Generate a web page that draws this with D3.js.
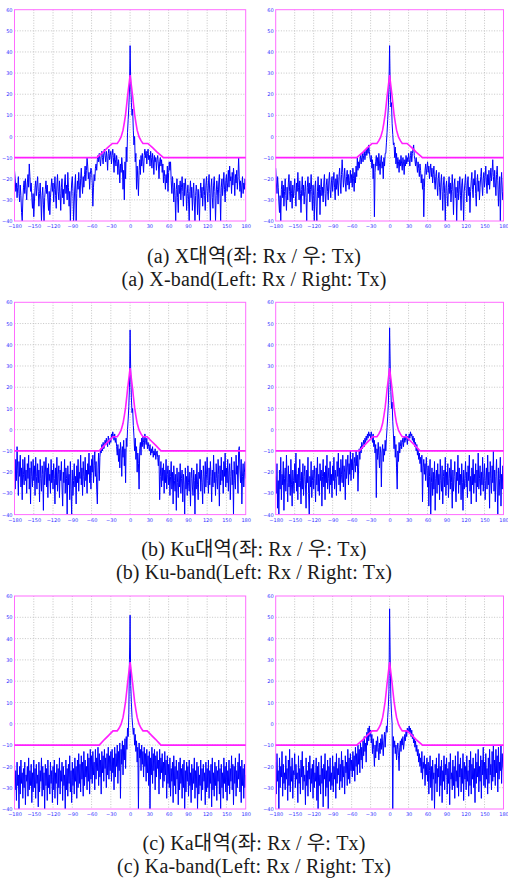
<!DOCTYPE html>
<html><head><meta charset="utf-8">
<script src="https://cdn.jsdelivr.net/npm/d3@7"></script>
<style>body{margin:0;background:#fff}svg{display:block}</style>
</head><body>
<svg id="c" width="508" height="879"></svg>
<script>
// ---------- data ----------
const xTicks = [-180,-150,-120,-90,-60,-30,0,30,60,90,120,150,180];
const yTicks = [60,50,40,30,20,10,0,-10,-20,-30,-40];

// mask (half pattern, symmetric), angle in deg, level in dB
const maskAnglesA = [0,1,2,3,4,5,7,9,11,14,17,20,27.6,35,42,52,180];
const maskAnglesB = [0,1,2,3,4,5,7,9,11,14,17,20,26.6,33,40,48,180];
const maskLevels  = [29,26.5,24,21.5,19,16,10.5,6.5,3,-0.2,-2,-3.3,-3.3,-5.3,-7.4,-10,-10];

// measured patterns, -180..180 deg, 1 deg steps
const xRx = [
-16,-20,-26,-22,-29,-24,-19,-27,-31,-23,-28,-36,-40,-30,-24,-21,-27,-20,-25,-30,-22,-18,-24,-13,-19,-26,-22,-29,-34,-27,
-38,-31,-24,-21,-28,-23,-19,-26,-33,-27,-22,-30,-40,-28,-24,-32,-40,-29,-25,-21,-27,-23,-30,-35,-26,-37,-29,-24,-20,-26,
-22,-31,-25,-19,-28,-34,-23,-18,-26,-30,-21,-27,-35,-24,-20,-29,-25,-32,-22,-18,-27,-23,-30,-17,-24,-33,-26,-40,-29,-22,
-19,-26,-40,-31,-23,-18,-40,-27,-21,-25,-17,-23,-29,-20,-15,-22,-27,-19,-24,-18,-14,-21,-16,-10,-14,-20,-17,-25,-18,-15,
-16,-22,-33,-24,-18,-21,-15,-13,-16,-11,-9,-12,-8,-11,-14,-9,-7,-10,-13,-8,-6,-9,-12,-7,-10,-16,-8,-6,-11,-9,
-7,-13,-9,-6,-10,-17,-8,-11,-14,-9,-12,-18,-11,-15,-22,-13,-17,-10,-14,-25,-16,-30,-12,-20,-5,-12,2,8,14,22,
43,25,16,10,13,3,-4,0,-12,-8,-25,-14,-20,-28,-16,-11,-18,-9,-14,-8,-12,-17,-9,-6,-10,-7,-13,-8,-6,-11,
-9,-14,-7,-10,-15,-8,-11,-18,-9,-12,-10,-16,-11,-9,-13,-20,-12,-10,-14,-11,-17,-13,-22,-16,-19,-25,-18,-22,-14,-26,
-17,-12,-16,-12,-21,-27,-19,-24,-31,-22,-28,-40,-25,-20,-29,-36,-23,-27,-21,-30,-24,-19,-26,-33,-22,-28,-20,-25,-35,-27,
-23,-30,-40,-26,-21,-29,-24,-35,-27,-22,-31,-40,-28,-23,-26,-37,-25,-30,-40,-27,-22,-29,-24,-33,-26,-20,-28,-35,-23,-19,
-26,-31,-22,-18,-27,-40,-24,-20,-29,-34,-23,-19,-26,-40,-28,-21,-25,-32,-22,-18,-27,-40,-24,-20,-28,-23,-17,-25,-31,-21,
-18,-26,-22,-16,-24,-14,-21,-19,-27,-17,-23,-15,-20,-28,-18,-22,-16,-25,-19,-10,-20,-26,-21,-29,-23,-19,-27,-22,-25,-20,
-23];
const xTx = [
-15,-22,-27,-19,-24,-31,-36,-28,-40,-25,-21,-29,-23,-33,-26,-20,-28,-35,-24,-30,-22,-18,-26,-31,-21,-27,-34,-23,-29,-25,
-20,-28,-33,-22,-26,-17,-24,-30,-21,-27,-36,-25,-19,-28,-23,-32,-26,-21,-29,-40,-24,-19,-27,-22,-31,-25,-18,-26,-35,-23,
-28,-40,-24,-21,-33,-40,-26,-19,-29,-23,-37,-25,-20,-28,-24,-31,-22,-18,-27,-33,-23,-20,-26,-30,-21,-17,-25,-29,-22,-19,
-26,-21,-17,-24,-30,-20,-25,-18,-23,-28,-19,-15,-22,-27,-18,-11,-17,-24,-20,-15,-22,-26,-19,-16,-23,-18,-25,-21,-16,-22,
-18,-24,-15,-20,-26,-17,-22,-14,-19,-10,-16,-12,-15,-11,-9,-13,-10,-8,-12,-9,-7,-11,-8,-6,-9,-5,-8,-4,-7,-10,
-12,-9,-15,-11,-20,-13,-38,-17,-12,-9,-14,-10,-16,-8,-13,-18,-11,-9,-15,-12,-20,-10,-14,-8,-8,-3,2,8,14,24,
43,22,14,16,6,1,-4,-3,-10,-5,-13,-8,-15,-10,-12,-17,-11,-14,-9,-13,-16,-10,-12,-18,-11,-14,-9,-13,-10,-12,
-8,-11,-14,-9,-7,-12,-8,-6,-4,-9,-11,-14,-10,-13,-17,-12,-15,-19,-13,-16,-22,-18,-25,-20,-38,-24,-16,-13,-18,-15,
-12,-17,-14,-20,-16,-13,-19,-15,-22,-18,-14,-21,-25,-19,-16,-23,-28,-20,-17,-24,-30,-22,-18,-26,-35,-23,-19,-27,-40,-24,
-21,-28,-33,-24,-19,-27,-22,-31,-25,-18,-26,-37,-23,-20,-29,-24,-40,-27,-21,-30,-25,-19,-28,-35,-23,-20,-27,-40,-26,-22,
-18,-25,-31,-22,-19,-28,-24,-36,-26,-21,-17,-25,-29,-20,-23,-16,-27,-33,-22,-18,-26,-21,-30,-24,-19,-15,-23,-28,-20,-17,
-24,-19,-14,-22,-27,-18,-23,-16,-25,-20,-15,-21,-17,-11,-19,-24,-16,-22,-28,-18,-14,-21,-33,-25,-19,-40,-23,-17,-26,-30,
-20];
const kuRx = [
-17,-28,-14,-24,-8,-19,-31,-15,-22,-12,-27,-18,-33,-14,-21,-26,-13,-24,-19,-30,-16,-23,-12,-28,-18,-35,-15,-22,-27,-14,
-24,-17,-31,-13,-22,-28,-16,-25,-19,-34,-14,-23,-29,-17,-21,-38,-15,-26,-20,-13,-27,-18,-32,-16,-24,-21,-30,-14,-25,-19,
-28,-16,-23,-35,-18,-26,-13,-29,-21,-17,-32,-19,-24,-15,-27,-36,-20,-25,-14,-30,-18,-23,-40,-17,-26,-21,-33,-15,-28,-40,
-19,-31,-24,-16,-27,-22,-35,-17,-25,-14,-29,-20,-23,-12,-26,-18,-31,-15,-22,-27,-13,-24,-19,-30,-16,-21,-11,-25,-17,-28,
-14,-20,-12,-25,-17,-10,-22,-15,-28,-35,-18,-11,-24,-13,-9,-11,-7,-10,-6,-9,-8,-5,-7,-4,-6,-8,-3,-5,-7,-4,
-6,-2,-4,-1,-3,-5,-2,-6,-4,-8,-12,-7,-15,-9,-18,-6,-10,-22,-8,-13,-5,-17,-9,-25,-4,-8,0,5,11,20,
47,26,15,8,10,2,-3,-10,-4,-14,-8,-20,-11,-16,-28,-9,-6,-12,-4,-8,-3,-6,-9,-2,-5,-7,-4,-9,-6,-8,
-10,-7,-12,-9,-11,-8,-13,-10,-12,-9,-14,-11,-10,-13,-17,-12,-33,-22,-15,-27,-18,-24,-16,-30,-19,-25,-14,-28,-21,-17,
-26,-19,-31,-22,-15,-28,-20,-35,-17,-24,-29,-21,-38,-18,-25,-32,-20,-27,-16,-30,-23,-19,-34,-21,-26,-40,-18,-28,-22,-31,
-17,-25,-29,-20,-36,-23,-18,-27,-31,-19,-24,-40,-21,-28,-16,-26,-33,-20,-23,-14,-29,-19,-25,-35,-17,-22,-30,-15,-27,-21,
-13,-24,-30,-18,-26,-15,-22,-34,-19,-27,-12,-25,-20,-31,-16,-23,-28,-14,-21,-36,-17,-26,-13,-24,-19,-30,-15,-22,-11,-27,
-18,-25,-14,-29,-20,-16,-33,-22,-13,-26,-19,-40,-15,-24,-28,-12,-21,-17,-30,-10,-8,-19,-25,-14,-35,-22,-16,-27,-20,-15,
-23];
const kuTx = [
-22,-30,-16,-37,-24,-40,-19,-28,-13,-33,-21,-26,-15,-38,-23,-18,-29,-12,-25,-34,-17,-27,-21,-31,-14,-26,-36,-19,-24,-30,
-16,-25,-11,-29,-21,-33,-18,-27,-14,-24,-35,-20,-28,-16,-31,-22,-17,-26,-37,-19,-25,-13,-30,-40,-22,-27,-15,-32,-24,-19,
-28,-17,-23,-34,-18,-26,-13,-29,-21,-31,-16,-24,-19,-36,-22,-14,-27,-20,-33,-17,-25,-12,-28,-23,-18,-30,-15,-26,-21,-32,
-17,-24,-13,-28,-19,-23,-31,-15,-22,-11,-26,-18,-29,-14,-21,-25,-12,-27,-17,-20,-33,-14,-23,-18,-12,-26,-16,-21,-10,-24,
-14,-19,-11,-23,-16,-13,-20,-10,-17,-12,-29,-18,-9,-14,-8,-11,-6,-9,-7,-5,-8,-4,-6,-3,-5,-2,-4,-1,-3,-2,
-4,-1,-3,-6,-2,-8,-5,-11,-7,-32,-9,-14,-6,-12,-18,-8,-11,-27,-10,-7,-15,-9,-12,-5,-10,-4,1,6,12,23,
48,30,18,10,13,4,-2,-9,-3,-13,-7,-18,-28,-10,-15,-6,-11,-8,-5,-9,-6,-4,-8,-3,-6,-5,-2,-4,-7,-3,
-5,-2,-4,-1,-3,-2,-5,-3,-6,-4,-8,-6,-10,-7,-12,-9,-14,-11,-16,-13,-20,-12,-34,-18,-14,-21,-16,-24,-13,-19,
-27,-17,-36,-22,-14,-40,-25,-18,-31,-20,-28,-15,-38,-23,-19,-30,-16,-26,-21,-33,-14,-24,-29,-17,-35,-22,-19,-27,-13,-31,
-20,-26,-16,-32,-23,-18,-28,-14,-25,-37,-19,-29,-22,-15,-27,-34,-20,-24,-12,-30,-18,-26,-21,-33,-16,-25,-38,-19,-28,-23,
-15,-27,-20,-32,-17,-24,-12,-29,-22,-35,-18,-26,-14,-30,-21,-25,-16,-34,-19,-27,-11,-28,-23,-17,-31,-20,-26,-13,-29,-22,
-16,-33,-24,-18,-28,-12,-26,-20,-37,-15,-23,-30,-17,-25,-10,-29,-19,-34,-22,-14,-27,-40,-18,-31,-23,-13,-36,-21,-28,-17,
-25];
const kaRx = [
-19,-31,-22,-36,-18,-29,-24,-40,-20,-33,-17,-28,-23,-35,-21,-30,-18,-38,-24,-27,-20,-34,-16,-31,-22,-29,-19,-37,-23,-32,
-17,-30,-21,-35,-19,-28,-24,-39,-18,-32,-22,-27,-16,-34,-20,-31,-23,-40,-19,-29,-21,-36,-17,-30,-24,-33,-18,-28,-22,-37,
-20,-31,-17,-35,-23,-28,-19,-38,-21,-30,-16,-33,-22,-27,-18,-36,-20,-29,-24,-40,-17,-31,-21,-34,-19,-28,-15,-32,-22,-37,
-18,-29,-21,-33,-16,-27,-20,-35,-17,-30,-14,-28,-19,-32,-15,-26,-18,-34,-13,-29,-17,-25,-20,-31,-14,-27,-16,-33,-12,-26,
-15,-28,-13,-24,-18,-31,-12,-26,-16,-22,-11,-29,-14,-25,-17,-33,-13,-23,-15,-27,-12,-21,-16,-30,-14,-24,-11,-26,-15,-22,
-13,-27,-12,-23,-16,-31,-11,-25,-14,-20,-10,-28,-13,-22,-9,-35,-12,-19,-8,-24,-10,-17,-7,-21,-6,-12,-2,-6,5,30,
51,18,10,3,-1,-5,-2,-10,-5,-13,-8,-18,-11,-40,-9,-16,-12,-22,-10,-19,-13,-25,-11,-20,-14,-27,-12,-23,-15,-29,
-13,-40,-16,-24,-11,-28,-14,-22,-12,-31,-15,-25,-13,-21,-17,-33,-12,-26,-16,-23,-14,-30,-18,-27,-13,-24,-17,-35,-15,-28,
-19,-30,-16,-34,-21,-27,-18,-37,-15,-29,-20,-33,-17,-26,-22,-38,-18,-31,-16,-28,-21,-35,-19,-30,-17,-40,-22,-32,-18,-27,
-20,-34,-17,-29,-23,-37,-19,-31,-21,-28,-16,-35,-22,-30,-18,-40,-20,-33,-24,-29,-17,-36,-21,-31,-19,-27,-23,-38,-18,-32,
-21,-30,-17,-35,-22,-28,-19,-39,-16,-31,-23,-34,-18,-29,-20,-36,-22,-27,-17,-33,-21,-40,-19,-30,-23,-35,-16,-28,-20,-32,
-18,-36,-22,-29,-17,-33,-21,-27,-15,-31,-19,-38,-20,-28,-16,-34,-22,-30,-18,-26,-14,-32,-20,-37,-17,-29,-21,-35,-19,-30,
-24];
const kaTx = [
-18,-33,-14,-27,-22,-40,-16,-30,-20,-25,-13,-34,-19,-28,-23,-31,-15,-26,-21,-36,-17,-29,-12,-32,-20,-27,-16,-35,-22,-24,
-14,-30,-19,-26,-23,-37,-15,-28,-21,-33,-17,-25,-13,-31,-20,-27,-24,-38,-16,-29,-22,-34,-18,-26,-15,-32,-21,-28,-19,-35,
-17,-30,-23,-27,-16,-36,-20,-40,-18,-29,-24,-33,-15,-28,-21,-39,-19,-26,-14,-34,-22,-30,-17,-40,-20,-27,-16,-31,-23,-29,
-15,-32,-20,-26,-18,-35,-14,-28,-21,-24,-16,-31,-19,-27,-13,-30,-17,-25,-20,-33,-15,-23,-18,-29,-12,-26,-16,-28,-14,-22,
-17,-25,-13,-22,-15,-27,-11,-20,-14,-24,-10,-19,-12,-23,-9,-17,-11,-21,-8,-15,-6,-13,-9,-18,-4,-10,-2,-8,-1,-6,
-3,-9,-5,-14,-7,-12,-20,-10,-16,-8,-13,-6,-11,-17,-9,-14,-7,-12,-5,-10,-15,-8,-4,-11,-5,-1,-4,3,8,16,
54,30,12,5,0,-40,-6,-11,-8,-14,-10,-17,-12,-9,-15,-22,-11,-8,-13,-7,-10,-6,-12,-9,-5,-8,-3,-6,-2,-4,
-3,-1,-4,-2,-6,-3,-7,-5,-9,-7,-11,-8,-13,-10,-15,-12,-18,-14,-20,-16,-23,-13,-26,-18,-21,-15,-29,-19,-24,-16,
-27,-18,-33,-22,-15,-30,-20,-36,-17,-26,-23,-40,-19,-28,-16,-32,-21,-25,-14,-34,-20,-29,-17,-37,-22,-27,-15,-31,-19,-24,
-16,-33,-21,-28,-18,-38,-14,-26,-23,-31,-17,-29,-20,-35,-15,-27,-22,-30,-13,-34,-19,-25,-16,-32,-21,-28,-14,-36,-18,-26,
-20,-31,-15,-27,-22,-34,-17,-29,-13,-33,-19,-26,-16,-30,-21,-37,-14,-28,-18,-25,-12,-32,-20,-27,-15,-35,-17,-24,-11,-29,
-18,-30,-14,-26,-21,-33,-16,-28,-12,-24,-19,-31,-13,-27,-10,-25,-17,-29,-12,-23,-15,-32,-11,-26,-18,-22,-10,-28,-14,-20,
-22];

const captions = [
  ["(a) X대역(좌: Rx / 우: Tx)", "(a) X-band(Left: Rx / Right: Tx)"],
  ["(b) Ku대역(좌: Rx / 우: Tx)", "(b) Ku-band(Left: Rx / Right: Tx)"],
  ["(c) Ka대역(좌: Rx / 우: Tx)", "(c) Ka-band(Left: Rx / Right: Tx)"]
];

// ---------- layout ----------
const colX = [[14.5, 245.7], [275.7, 503.5]];
const rowY = [[9.7, 221], [302.3, 514.6], [596, 809]];
const capY = [[262.5, 285.5], [556, 579], [849.5, 872.5]];

const panels = [
  {data: xRx,  mask: maskAnglesA, r: 0, c: 0},
  {data: xTx,  mask: maskAnglesA, r: 0, c: 1},
  {data: kuRx, mask: maskAnglesB, r: 1, c: 0},
  {data: kuTx, mask: maskAnglesB, r: 1, c: 1},
  {data: kaRx, mask: maskAnglesB, r: 2, c: 0},
  {data: kaTx, mask: maskAnglesA, r: 2, c: 1}
];

const svg = d3.select("#c");

panels.forEach((p, k) => {
  const [x0, x1] = colX[p.c], [y0, y1] = rowY[p.r];
  const x = d3.scaleLinear().domain([-180, 180]).range([x0, x1]);
  const y = d3.scaleLinear().domain([-40, 60]).range([y1, y0]);
  const g = svg.append("g");

  // grid
  g.append("g").selectAll("line").data(xTicks.slice(1, -1)).join("line")
    .attr("x1", d => x(d)).attr("x2", d => x(d)).attr("y1", y0).attr("y2", y1)
    .attr("stroke", "#b8b8b8").attr("stroke-width", 0.8).attr("stroke-dasharray", "1,1.6");
  g.append("g").selectAll("line").data(yTicks.slice(1, -1)).join("line")
    .attr("y1", d => y(d)).attr("y2", d => y(d)).attr("x1", x0).attr("x2", x1)
    .attr("stroke", "#b8b8b8").attr("stroke-width", 0.8).attr("stroke-dasharray", "1,1.6");

  // clip
  const cid = "clip" + k;
  svg.append("clipPath").attr("id", cid).append("rect")
    .attr("x", x0).attr("y", y0).attr("width", x1 - x0).attr("height", y1 - y0);

  // measured pattern
  const n = p.data.length;
  const pts = p.data.map((v, i) => [-180 + i * 360 / (n - 1), v]);
  g.append("path").datum(pts)
    .attr("clip-path", `url(#${cid})`)
    .attr("fill", "none").attr("stroke", "#0000ff").attr("stroke-width", 1.0)
    .attr("stroke-linejoin", "round")
    .attr("d", d3.line().x(d => x(d[0])).y(d => y(Math.max(-40.5, d[1]))));

  // frame
  g.append("rect").attr("x", x0).attr("y", y0).attr("width", x1 - x0).attr("height", y1 - y0)
    .attr("fill", "none").attr("stroke", "#ff6cff").attr("stroke-width", 1);

  // mask
  const half = p.mask.map((a, i) => [a, maskLevels[i]]);
  const maskPts = half.slice(1).reverse().map(d => [-d[0], d[1]]).concat(half);
  g.append("path").datum(maskPts)
    .attr("fill", "none").attr("stroke", "#ff1eff").attr("stroke-width", 1.6)
    .attr("d", d3.line().x(d => x(d[0])).y(d => y(d[1])));

  // axes labels
  const ay = g.append("g").attr("transform", `translate(${x0},0)`)
    .call(d3.axisLeft(y).tickValues(yTicks).tickSize(0).tickPadding(2).tickFormat(d3.format("d")));
  const ax = g.append("g").attr("transform", `translate(0,${y1})`)
    .call(d3.axisBottom(x).tickValues(xTicks).tickSize(0).tickPadding(3.5).tickFormat(d3.format("d")));
  [ax, ay].forEach(a => {
    a.select(".domain").remove();
    a.selectAll("text").attr("fill", "#3030ff").style("font-size", "5px")
      .style("font-family", "'DejaVu Sans', sans-serif");
  });
});

// captions
captions.forEach((pair, r) => {
  pair.forEach((t, j) => {
    svg.append("text").attr("x", 254).attr("y", capY[r][j])
      .attr("text-anchor", "middle")
      .style("font-family", "'Liberation Serif', 'Noto Sans CJK KR', serif")
      .style("font-size", "20px").style("letter-spacing", "0.15px").attr("fill", "#1a1a1a")
      .text(t);
  });
});
</script>
</body></html>
